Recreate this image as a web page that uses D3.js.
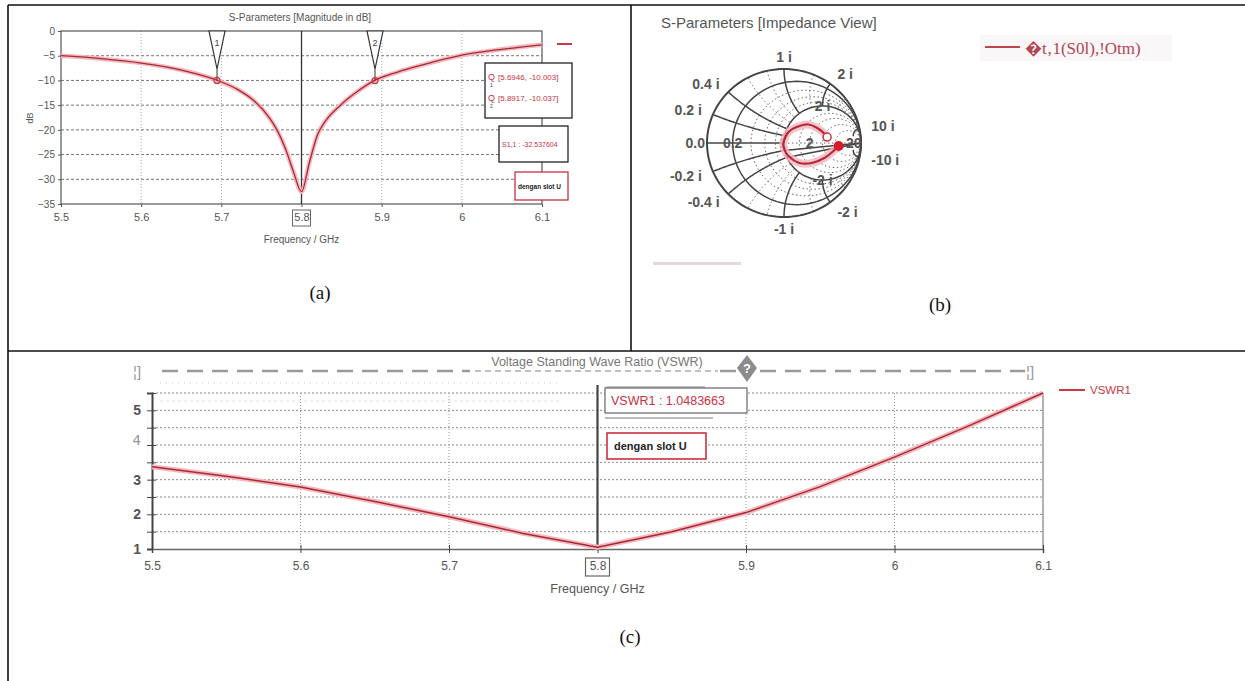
<!DOCTYPE html>
<html>
<head>
<meta charset="utf-8">
<script src="https://cdn.jsdelivr.net/npm/d3@7/dist/d3.min.js"></script>
<style>
  body { margin: 0; background: #fff; }
  svg { display: block; }
  text { font-family: "Liberation Sans", Arial, sans-serif; }
</style>
</head>
<body>
<svg id="fig" width="1245" height="681"></svg>
<script>
// ---------- data ----------
// (a) S11 magnitude in dB
const aTicksX = [5.5, 5.6, 5.7, 5.8, 5.9, 6.0, 6.1];
const aTicksY = [0, -5, -10, -15, -20, -25, -30, -35];
const s11Freq = [5.50, 5.55, 5.60, 5.65, 5.69, 5.72, 5.74, 5.76, 5.77, 5.78, 5.79, 5.80, 5.81, 5.82, 5.83, 5.85, 5.87, 5.89, 5.92, 5.95, 6.00, 6.05, 6.10];
const s11Db   = [-5.0, -5.6, -6.5, -7.9, -9.7, -11.8, -14.0, -17.6, -20.2, -23.8, -28.5, -32.5, -26.5, -21.0, -18.2, -14.8, -12.2, -10.1, -8.3, -6.9, -4.9, -3.7, -2.8];
const markerFreq = [5.6946, 5.8917];
const markerDb = [-10.003, -10.037];
const markerNames = ["1", "2"];

// (b) Smith chart trace (reflection coefficient, re / im)
const smithRe = [0.56, 0.50, 0.42, 0.32, 0.20, 0.06, 0.01, -0.01, 0.01, 0.06, 0.20, 0.36, 0.53, 0.64, 0.71];
const smithIm = [0.08, 0.15, 0.21, 0.25, 0.23, 0.15, 0.06, -0.02, -0.10, -0.18, -0.27, -0.27, -0.20, -0.11, -0.04];
const smithMajorR = [0.2, 1];
const smithMinorR = [0.4, 0.6, 0.8, 1.5, 2, 3, 5];
const smithMajorX = [0.2, 0.4, 1, 2, 10, -0.2, -0.4, -1, -2, -10];
const smithMinorX = [0.6, 0.8, 1.5, 3, 5, -0.6, -0.8, -1.5, -3, -5];
const smithRLabels = [0, 0.2, 1, 2, 20];
const smithRText = ["0.0", "0.2", "1", "2", "20"];
const smithXLabels = [1, 2, 10, 0.4, 0.2, -0.2, -0.4, -10, -2, -1];
const smithXText = ["1 i", "2 i", "10 i", "0.4 i", "0.2 i", "-0.2 i", "-0.4 i", "-10 i", "-2 i", "-1 i"];
const smithInnerX = [2, -2];
const smithInnerText = ["2 i", "-2 i"];

// (c) VSWR
const cTicksX = [5.5, 5.6, 5.7, 5.8, 5.9, 6.0, 6.1];
const cTicksY = [1, 1.5, 2, 2.5, 3, 3.5, 4, 4.5, 5, 5.5];
const vswrFreq = [5.50, 5.55, 5.60, 5.65, 5.70, 5.75, 5.80, 5.85, 5.90, 5.95, 6.00, 6.05, 6.10];
const vswrVal  = [3.37, 3.10, 2.79, 2.37, 1.93, 1.45, 1.05, 1.50, 2.05, 2.80, 3.65, 4.55, 5.50];

const svg = d3.select("#fig");
const HALO = "#f5b8bf";

// ---------- table frame ----------
const frame = svg.append("g").attr("stroke", "#111").attr("stroke-width", 1.6);
frame.append("line").attr("x1", 8).attr("x2", 1245).attr("y1", 5).attr("y2", 5);
frame.append("line").attr("x1", 8).attr("x2", 8).attr("y1", 5).attr("y2", 681);
frame.append("line").attr("x1", 631).attr("x2", 631).attr("y1", 5).attr("y2", 351);
frame.append("line").attr("x1", 8).attr("x2", 1245).attr("y1", 351).attr("y2", 351);

svg.append("g").selectAll("text")
  .data([["(a)", 320, 299], ["(b)", 940, 311], ["(c)", 630, 643]])
  .join("text")
  .attr("x", d => d[1]).attr("y", d => d[2])
  .attr("text-anchor", "middle")
  .style("font-family", "'Liberation Serif', 'Times New Roman', serif")
  .attr("font-size", 19).attr("fill", "#111")
  .text(d => d[0]);

// ---------- (a) S-Parameters magnitude ----------
const gA = svg.append("g");
const xA = d3.scaleLinear().domain([5.5, 6.1]).range([61, 542]);
const yA = d3.scaleLinear().domain([-35, 0]).range([204, 31]);

gA.append("g").selectAll("line")
  .data(aTicksY.filter(d => d > -35 && d < 0)).join("line")
  .attr("x1", xA(5.5)).attr("x2", xA(6.1))
  .attr("y1", d => yA(d)).attr("y2", d => yA(d))
  .attr("stroke", "#777").attr("stroke-dasharray", "3,2");
gA.append("g").selectAll("line")
  .data(aTicksX.filter(d => d > 5.5 && d < 6.1 && d !== 5.8)).join("line")
  .attr("x1", d => xA(d)).attr("x2", d => xA(d))
  .attr("y1", yA(0)).attr("y2", yA(-35))
  .attr("stroke", "#aaa").attr("stroke-dasharray", "1,2");
gA.append("rect")
  .attr("x", xA(5.5)).attr("y", yA(0))
  .attr("width", xA(6.1) - xA(5.5)).attr("height", yA(-35) - yA(0))
  .attr("fill", "none").attr("stroke", "#555").attr("stroke-width", 1.2);

gA.append("g").attr("transform", `translate(${xA(5.5)},0)`)
  .call(d3.axisLeft(yA).tickValues(aTicksY).tickSize(3).tickPadding(3))
  .call(g => g.select(".domain").remove())
  .call(g => g.selectAll("line").attr("stroke", "#555"))
  .call(g => g.selectAll("text").attr("font-size", 10).attr("fill", "#555")
    .style("font-family", "'Liberation Sans', Arial, sans-serif"));
gA.append("g").attr("transform", `translate(0,${yA(-35)})`)
  .call(d3.axisBottom(xA).tickValues(aTicksX).tickSize(3).tickPadding(6)
    .tickFormat(d => String(+d.toFixed(1))))
  .call(g => g.select(".domain").remove())
  .call(g => g.selectAll("line").attr("stroke", "#555"))
  .call(g => g.selectAll("text").attr("font-size", 11).attr("fill", "#555")
    .style("font-family", "'Liberation Sans', Arial, sans-serif"));
gA.append("rect").attr("x", xA(5.8) - 9).attr("y", yA(-35) + 6)
  .attr("width", 18).attr("height", 16)
  .attr("fill", "none").attr("stroke", "#666");

gA.append("line").attr("x1", xA(5.8)).attr("x2", xA(5.8))
  .attr("y1", yA(0)).attr("y2", yA(-35))
  .attr("stroke", "#333").attr("stroke-width", 1.3);

const lineA = d3.line()
  .x((d, i) => xA(s11Freq[i])).y(d => yA(d))
  .curve(d3.curveMonotoneX);
gA.append("path").datum(s11Db).attr("d", lineA)
  .attr("fill", "none").attr("stroke", HALO).attr("stroke-width", 4.5);
gA.append("path").datum(s11Db).attr("d", lineA)
  .attr("fill", "none").attr("stroke", "#a52a35").attr("stroke-width", 1.3);

// markers
const mk = gA.append("g").selectAll("g").data(markerFreq).join("g");
mk.append("path")
  .attr("d", d => `M${xA(d) - 8},${yA(0)}L${xA(d) + 8},${yA(0)}L${xA(d)},${yA(0) + 38}Z`)
  .attr("fill", "#fff").attr("stroke", "#333").attr("stroke-width", 1.2);
mk.append("text").attr("x", d => xA(d)).attr("y", yA(0) + 15)
  .attr("text-anchor", "middle").attr("font-size", 9).attr("fill", "#444")
  .text((d, i) => markerNames[i]);
mk.append("line").attr("x1", d => xA(d)).attr("x2", d => xA(d))
  .attr("y1", yA(0) + 38).attr("y2", (d, i) => yA(markerDb[i]))
  .attr("stroke", "#333");
mk.append("circle").attr("cx", d => xA(d)).attr("cy", (d, i) => yA(markerDb[i]))
  .attr("r", 3).attr("fill", "none").attr("stroke", "#d0303c").attr("stroke-width", 1.2);

gA.append("line").attr("x1", xA(6.1) + 15).attr("x2", xA(6.1) + 30)
  .attr("y1", 44).attr("y2", 44).attr("stroke", "#c83a45").attr("stroke-width", 2);

gA.append("text").attr("x", 300).attr("y", 21).attr("text-anchor", "middle")
  .attr("font-size", 10).attr("fill", "#555").text("S-Parameters [Magnitude in dB]");
gA.append("text").attr("x", xA(5.8)).attr("y", 243).attr("text-anchor", "middle")
  .attr("font-size", 10).attr("fill", "#555").text("Frequency / GHz");
gA.append("text").attr("transform", "translate(33,118) rotate(-90)")
  .attr("text-anchor", "middle").attr("font-size", 9).attr("fill", "#555").text("dB");

// info boxes
gA.append("rect").attr("x", 485).attr("y", 63).attr("width", 87).attr("height", 55)
  .attr("fill", "#fff").attr("stroke", "#222").attr("stroke-width", 1.3);
markerFreq.forEach((f, i) => {
  const y = 80 + i * 21;
  gA.append("text").attr("x", 488).attr("y", y).attr("font-size", 9).attr("fill", "#c8323f").text("Q");
  gA.append("text").attr("x", 490).attr("y", y + 7).attr("font-size", 5).attr("fill", "#444").text(markerNames[i]);
  gA.append("text").attr("x", 498).attr("y", y).attr("font-size", 8).attr("fill", "#c8323f")
    .text(`[${f}, ${markerDb[i].toFixed(3)}]`);
});
gA.append("rect").attr("x", 499).attr("y", 126).attr("width", 69).attr("height", 36)
  .attr("fill", "#fff").attr("stroke", "#222").attr("stroke-width", 1.3);
gA.append("text").attr("x", 502).attr("y", 147).attr("font-size", 7).attr("fill", "#c8323f")
  .text("S1,1 : -32.537604");
gA.append("rect").attr("x", 515).attr("y", 172).attr("width", 53).attr("height", 28)
  .attr("fill", "#fff").attr("stroke", "#c8323f").attr("stroke-width", 1.3);
gA.append("text").attr("x", 518).attr("y", 189).attr("font-size", 6.5).attr("font-weight", "bold")
  .attr("fill", "#222").text("dengan slot U");

// ---------- (b) Smith chart ----------
const gB = svg.append("g");
const cxS = 784, cyS = 143, rxS = 77, ryS = 74;
const sx = d3.scaleLinear().domain([-1, 1]).range([cxS - rxS, cxS + rxS]);
const sy = d3.scaleLinear().domain([-1, 1]).range([cyS + ryS, cyS - ryS]);
const gLine = d3.line().x(d => sx(d[0])).y(d => sy(d[1]));
const rad = a => a * Math.PI / 180;
// normalised resistance at a point of the reflection plane
const rOf = p => (1 - p[0] * p[0] - p[1] * p[1]) / ((1 - p[0]) * (1 - p[0]) + p[1] * p[1]);

function rCircle(r) {
  const c = r / (1 + r), rr = 1 / (1 + r);
  return d3.range(0, 361, 3).map(a => [c + rr * Math.cos(rad(a)), rr * Math.sin(rad(a))]);
}
function xArc(x, rMax) {
  const c = 1 / x, rr = Math.abs(1 / x);
  return d3.range(90, 270.01, 0.25)
    .map(a => [1 + rr * Math.cos(rad(a)), c + rr * Math.sin(rad(a))])
    .filter(p => p[0] * p[0] + p[1] * p[1] <= 1.0005 && rOf(p) <= rMax);
}
function zToGamma(r, x) {
  const den = (r + 1) * (r + 1) + x * x;
  return [(r * r + x * x - 1) / den, 2 * x / den];
}

gB.append("g").selectAll("path")
  .data(smithMinorR.map(rCircle).concat(smithMinorX.map(x => xArc(x, 1))))
  .join("path").attr("d", gLine).attr("fill", "none")
  .attr("stroke", "#666").attr("stroke-width", 1).attr("stroke-dasharray", "1.5,2.5");
gB.append("g").selectAll("path")
  .data(smithMajorR.map(rCircle).concat(smithMajorX.map(x => xArc(x, Math.abs(x) >= 10 ? 10 : 1))))
  .join("path").attr("d", gLine).attr("fill", "none")
  .attr("stroke", "#444").attr("stroke-width", 1.5);
gB.append("path").datum(rCircle(0)).attr("d", gLine).attr("fill", "none")
  .attr("stroke", "#444").attr("stroke-width", 2);
gB.append("line").attr("x1", sx(-1)).attr("x2", sx(0)).attr("y1", sy(0)).attr("y2", sy(0))
  .attr("stroke", "#444").attr("stroke-width", 1.5);
gB.append("line").attr("x1", sx(0)).attr("x2", sx(1)).attr("y1", sy(0)).attr("y2", sy(0))
  .attr("stroke", "#666").attr("stroke-width", 1).attr("stroke-dasharray", "1.5,2.5");

const lblStyle = s => s.attr("font-size", 14).attr("font-weight", "bold").attr("fill", "#555");
gB.append("g").selectAll("text").data(smithRLabels).join("text")
  .attr("x", d => d === 0 ? sx(-1) - 2 : d === 1 ? sx(0) + 3 : sx((d - 1) / (d + 1)))
  .attr("y", sy(0) + 5)
  .attr("text-anchor", d => d === 0 || d === 1 ? "end" : "middle")
  .call(lblStyle).text((d, i) => smithRText[i]);
gB.append("g").selectAll("text").data(smithXLabels).join("text")
  .each(function (d, i) {
    const g = zToGamma(0, d);
    const px = sx(g[0]) + 12 * g[0], py = sy(g[1]) - 12 * g[1];
    d3.select(this).attr("x", px).attr("y", py + 5)
      .attr("text-anchor", g[0] < -0.1 ? "end" : g[0] > 0.1 ? "start" : "middle")
      .text(smithXText[i]);
  }).call(lblStyle);
gB.append("g").selectAll("text").data(smithInnerX).join("text")
  .attr("x", d => sx(zToGamma(1, d)[0]))
  .attr("y", d => sy(zToGamma(1, d)[1]) + 5)
  .attr("text-anchor", "middle").call(lblStyle)
  .text((d, i) => smithInnerText[i]);

const trace = smithRe.map((d, i) => [d, smithIm[i]]);
const tLine = d3.line().x(d => sx(d[0])).y(d => sy(d[1])).curve(d3.curveCatmullRom);
gB.append("path").datum(trace).attr("d", tLine).attr("fill", "none")
  .attr("stroke", HALO).attr("stroke-width", 8).attr("opacity", 0.8);
gB.append("path").datum(trace).attr("d", tLine).attr("fill", "none")
  .attr("stroke", "#b52a38").attr("stroke-width", 2.2);
gB.append("circle").attr("cx", sx(trace[0][0])).attr("cy", sy(trace[0][1]))
  .attr("r", 4).attr("fill", "#fff").attr("stroke", "#c8323f").attr("stroke-width", 1.5);
const last = trace[trace.length - 1];
gB.append("circle").attr("cx", sx(last[0])).attr("cy", sy(last[1]))
  .attr("r", 5).attr("fill", "#d81b2a");

gB.append("text").attr("x", 661).attr("y", 28).attr("font-size", 15).attr("fill", "#555")
  .text("S-Parameters [Impedance View]");
gB.append("rect").attr("x", 980).attr("y", 35).attr("width", 192).attr("height", 26).attr("fill", "#f9f7f7");
gB.append("line").attr("x1", 985).attr("x2", 1020).attr("y1", 47).attr("y2", 47)
  .attr("stroke", "#c04550").attr("stroke-width", 2);
gB.append("text").attr("x", 1025).attr("y", 54).attr("font-size", 17).attr("fill", "#b24652")
  .style("font-family", "'Liberation Serif', 'Times New Roman', serif")
  .text("\uFFFDt\u201A1(S0l),!Otm)");
gB.append("rect").attr("x", 653).attr("y", 262).attr("width", 88).attr("height", 3).attr("fill", "#e6d8d8");

// ---------- (c) VSWR ----------
const gC = svg.append("g");
const xC = d3.scaleLinear().domain([5.5, 6.1]).range([152, 1043]);
const yC = d3.scaleLinear().domain([1, 5.5]).range([549, 393]);

gC.append("g").selectAll("line").data(cTicksY.filter(d => d > 1)).join("line")
  .attr("x1", xC(5.5)).attr("x2", xC(6.1))
  .attr("y1", d => yC(d)).attr("y2", d => yC(d))
  .attr("stroke", "#8a8a8a").attr("stroke-dasharray", "2,2");
gC.append("g").selectAll("line").data(cTicksX.filter(d => d > 5.5 && d < 6.1 && d !== 5.8)).join("line")
  .attr("x1", d => xC(d)).attr("x2", d => xC(d))
  .attr("y1", yC(5.5)).attr("y2", yC(1))
  .attr("stroke", "#999").attr("stroke-dasharray", "1,2");
gC.append("line").attr("x1", xC(6.1)).attr("x2", xC(6.1)).attr("y1", yC(5.5)).attr("y2", yC(1))
  .attr("stroke", "#999").attr("stroke-width", 1.5);

gC.append("g").attr("transform", `translate(${xC(5.5)},0)`)
  .call(d3.axisLeft(yC).tickValues(cTicksY).tickSize(5).tickPadding(6)
    .tickFormat(d => Number.isInteger(d) ? d : ""))
  .call(g => g.select(".domain").attr("stroke", "#444").attr("stroke-width", 2))
  .call(g => g.selectAll("line").attr("stroke", "#444").attr("x2", -5).attr("x1", 4))
  .call(g => g.selectAll("text").attr("font-size", 14).attr("font-weight", "bold").attr("fill", "#555")
    .style("font-family", "'Liberation Sans', Arial, sans-serif"))
  .call(g => g.selectAll("text").filter(d => d === 4)
    .attr("font-weight", "normal").attr("fill", "#999").attr("dy", "-0.05em")
    .style("font-family", "'DejaVu Sans Mono', monospace"));
gC.append("g").attr("transform", `translate(0,${yC(1)})`)
  .call(d3.axisBottom(xC).tickValues(cTicksX).tickSize(4).tickPadding(8)
    .tickFormat(d => String(+d.toFixed(1))))
  .call(g => g.select(".domain").attr("stroke", "#666").attr("stroke-width", 1.5))
  .call(g => g.selectAll("line").attr("stroke", "#444").attr("y1", -4))
  .call(g => g.selectAll("text").attr("font-size", 12).attr("fill", "#555")
    .style("font-family", "'Liberation Sans', Arial, sans-serif"));
gC.append("rect").attr("x", xC(5.8) - 12).attr("y", yC(1) + 9)
  .attr("width", 24).attr("height", 18)
  .attr("fill", "none").attr("stroke", "#666").attr("stroke-width", 1.2);
gC.append("text").attr("x", xC(5.8)).attr("y", 593).attr("text-anchor", "middle")
  .attr("font-size", 12.5).attr("fill", "#555").text("Frequency / GHz");

gC.append("line").attr("x1", xC(5.8)).attr("x2", xC(5.8))
  .attr("y1", 385).attr("y2", yC(1))
  .attr("stroke", "#444").attr("stroke-width", 2.2);

// the VSWR trace is drawn piecewise straight, as in the picture (sharp V at the minimum)
const lineC = d3.line()
  .x((d, i) => xC(vswrFreq[i])).y(d => yC(d));
gC.append("path").datum(vswrVal).attr("d", lineC)
  .attr("fill", "none").attr("stroke", HALO).attr("stroke-width", 5).attr("stroke-linejoin", "round");
gC.append("path").datum(vswrVal).attr("d", lineC)
  .attr("fill", "none").attr("stroke", "#a52a35").attr("stroke-width", 1.5).attr("stroke-linejoin", "round");

// title strip with the broken dashed rule
gC.append("text").attr("x", 597).attr("y", 366).attr("text-anchor", "middle")
  .attr("font-size", 12.5).attr("fill", "#777").text("Voltage Standing Wave Ratio (VSWR)");
[[162, 470], [720, 736], [760, 1025]].forEach(s => {
  gC.append("line").attr("x1", s[0]).attr("x2", s[1]).attr("y1", 371).attr("y2", 371)
    .attr("stroke", "#9a9a9a").attr("stroke-width", 2.5).attr("stroke-dasharray", "16,9");
});
gC.append("line").attr("x1", 475).attr("x2", 718).attr("y1", 371).attr("y2", 371)
  .attr("stroke", "#aaa").attr("stroke-width", 1.5).attr("stroke-dasharray", "6,4");
gC.append("path").attr("d", "M747,355L757,368L747,382L737,368Z").attr("fill", "#8c8c8c");
gC.append("text").attr("x", 747).attr("y", 373).attr("text-anchor", "middle")
  .attr("font-size", 13).attr("font-weight", "bold").attr("fill", "#fff").text("?");
gC.append("text").attr("x", 133).attr("y", 377).attr("font-size", 15).attr("fill", "#999").text("¦]");
gC.append("text").attr("x", 1026).attr("y", 377).attr("font-size", 15).attr("fill", "#999").text("¦]");
gC.append("line").attr("x1", 160).attr("x2", 560).attr("y1", 383).attr("y2", 383)
  .attr("stroke", "#ccc").attr("stroke-dasharray", "1,5");
gC.append("line").attr("x1", 160).attr("x2", 560).attr("y1", 401).attr("y2", 401)
  .attr("stroke", "#ddd").attr("stroke-dasharray", "3,3");

// marker readout
gC.append("line").attr("x1", 606).attr("x2", 705).attr("y1", 387).attr("y2", 387).attr("stroke", "#888");
gC.append("rect").attr("x", 605).attr("y", 388).attr("width", 142).attr("height", 25)
  .attr("fill", "#fff").attr("stroke", "#666").attr("stroke-width", 1.2);
gC.append("text").attr("x", 611).attr("y", 405).attr("font-size", 12.5).attr("fill", "#c8323f")
  .text("VSWR1 : 1.0483663");
gC.append("line").attr("x1", 605).attr("x2", 713).attr("y1", 418).attr("y2", 418).attr("stroke", "#777");
gC.append("rect").attr("x", 607).attr("y", 433).attr("width", 99).attr("height", 26)
  .attr("fill", "#fff").attr("stroke", "#c8323f").attr("stroke-width", 1.6);
gC.append("text").attr("x", 614).attr("y", 450).attr("font-size", 11).attr("font-weight", "bold")
  .attr("fill", "#222").text("dengan slot U");

gC.append("line").attr("x1", 1059).attr("x2", 1085).attr("y1", 390).attr("y2", 390)
  .attr("stroke", "#c83a45").attr("stroke-width", 2);
gC.append("text").attr("x", 1090).attr("y", 394).attr("font-size", 11.5).attr("fill", "#c83a45")
  .text("VSWR1");
</script>
</body>
</html>
